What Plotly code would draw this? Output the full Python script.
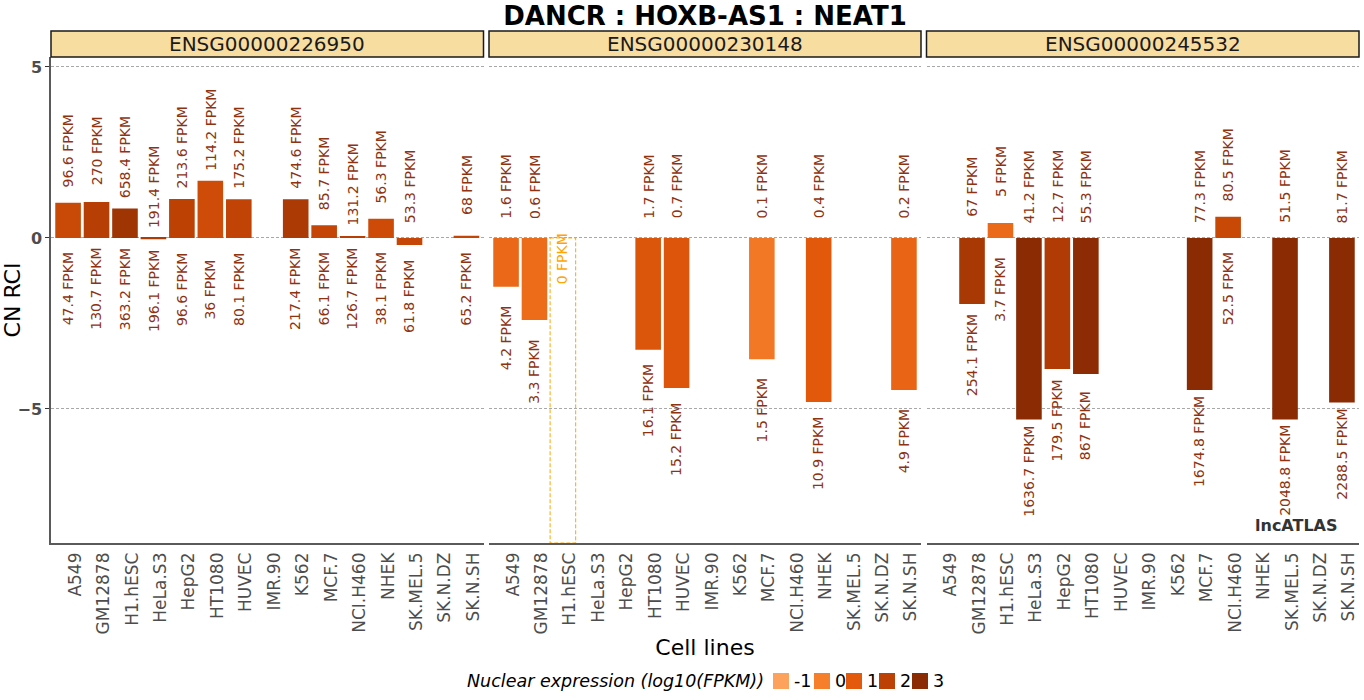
import math
import plotly.graph_objects as go

# ---------------- data ----------------
title_text = "DANCR : HOXB-AS1 : NEAT1"
gene_ids = ["ENSG00000226950", "ENSG00000230148", "ENSG00000245532"]
cell_lines = ["A549", "GM12878", "H1.hESC", "HeLa.S3", "HepG2", "HT1080", "HUVEC",
              "IMR.90", "K562", "MCF.7", "NCI.H460", "NHEK", "SK.MEL.5", "SK.N.DZ", "SK.N.SH"]

# CN RCI per cell line (None = no data)
rci_1 = [1.03, 1.05, 0.86, -0.04, 1.14, 1.67, 1.13, None, 1.13, 0.37, 0.05, 0.56, -0.21, None, 0.06]
rci_2 = [-1.43, -2.40, None, None, None, -3.27, -4.39, None, None, -3.55, None, -4.80, None, None, -4.45]
rci_3 = [None, -1.93, 0.44, -5.31, -3.83, -3.98, None, None, None, -4.45, 0.62, None, -5.31, None, -4.81]

# cytoplasmic FPKM (upper labels)
cyt_1 = [96.6, 270, 658.4, 191.4, 213.6, 114.2, 175.2, None, 474.6, 85.7, 131.2, 56.3, 53.3, None, 68]
cyt_2 = [1.6, 0.6, 0, None, None, 1.7, 0.7, None, None, 0.1, None, 0.4, None, None, 0.2]
cyt_3 = [None, 67, 5, 41.2, 12.7, 55.3, None, None, None, 77.3, 80.5, None, 51.5, None, 81.7]

# nuclear FPKM (lower labels, bar colour)
nuc_1 = [47.4, 130.7, 363.2, 196.1, 96.6, 36, 80.1, None, 217.4, 66.1, 126.7, 38.1, 61.8, None, 65.2]
nuc_2 = [4.2, 3.3, None, None, None, 16.1, 15.2, None, None, 1.5, None, 10.9, None, None, 4.9]
nuc_3 = [None, 254.1, 3.7, 1636.7, 179.5, 867, None, None, None, 1674.8, 52.5, None, 2048.8, None, 2288.5]

legend_ticks = [-1, 0, 1, 2, 3]
legend_colors = ["#FDA25C", "#F57F2A", "#E35A0C", "#BD4104", "#8A2B04"]

# ---------------- layout constants ----------------
W, H = 1364, 700
L, R, T, B = 51, 5, 57, 157
PW, PH = W - L - R, H - T - B
FONT = "DejaVu Sans"
LABEL_COLOR = "#8E3312"
NA_COLOR = "#FFA500"
Y_RANGE = [-8.92, 5.29]
X_RANGE = [-0.6, 14.6]
LABEL_OFFSET = 1.5
NA_LABEL_OFFSET = 0.6


def px(x):
    return (x - L) / PW


def py(y):
    return (H - B - y) / PH


domains = [[0, px(483.5)], [px(489), px(921)], [px(926.5), 1]]
colorscale = [[(t - legend_ticks[0]) / (legend_ticks[-1] - legend_ticks[0]), c]
              for t, c in zip(legend_ticks, legend_colors)]

panels = [(rci_1, cyt_1, nuc_1), (rci_2, cyt_2, nuc_2), (rci_3, cyt_3, nuc_3)]

fig = go.Figure()
annotations = []
shapes = []


def fmt(v):
    return f"{v:g} FPKM"


for p, (rci, cyt, nuc) in enumerate(panels):
    sfx = "" if p == 0 else str(p + 1)
    xa, ya = "x" + sfx, "y" + sfx
    log_nuc = [math.log10(v) if (v is not None and v > 0) else math.nan for v in nuc]
    fig.add_trace(go.Bar(
        x=cell_lines, y=rci, width=0.9,
        marker=dict(color=log_nuc, colorscale=colorscale,
                    cmin=legend_ticks[0], cmax=legend_ticks[-1], line=dict(width=0)),
        xaxis=xa, yaxis=ya, showlegend=False,
        hovertemplate="%{x}: %{y}<extra></extra>",
    ))
    for i, name in enumerate(cell_lines):
        if rci[i] is not None:
            annotations.append(dict(
                x=name, y=max(rci[i], 0) + LABEL_OFFSET, xref=xa, yref=ya,
                text=fmt(cyt[i]), textangle=-90, showarrow=False,
                xanchor="center", yanchor="middle",
                font=dict(family=FONT, size=14, color=LABEL_COLOR)))
            annotations.append(dict(
                x=name, y=min(rci[i], 0) - LABEL_OFFSET, xref=xa, yref=ya,
                text=fmt(nuc[i]), textangle=-90, showarrow=False,
                xanchor="center", yanchor="middle",
                font=dict(family=FONT, size=14, color=LABEL_COLOR)))
        elif cyt[i] is not None:
            # undefined RCI (zero FPKM): dashed outline down to the panel bottom
            shapes.append(dict(
                type="rect", xref=xa, yref=ya, x0=name, x1=name,
                x0shift=-0.45, x1shift=0.45, y0=0, y1=Y_RANGE[0],
                line=dict(color=NA_COLOR, width=1, dash="4px,2px"),
                fillcolor="rgba(0,0,0,0)", layer="above"))
            annotations.append(dict(
                x=name, y=0 - NA_LABEL_OFFSET, xref=xa, yref=ya,
                text=fmt(cyt[i]), textangle=-90, showarrow=False,
                xanchor="center", yanchor="middle",
                font=dict(family=FONT, size=14, color=NA_COLOR)))

    # facet strip
    d0, d1 = domains[p]
    shapes.append(dict(type="rect", xref="paper", yref="paper",
                       x0=d0, x1=d1, y0=py(57), y1=py(31),
                       fillcolor="#F8DDA1", line=dict(color="#1A1A1A", width=1.5)))
    annotations.append(dict(x=(d0 + d1) / 2, y=py(44), xref="paper", yref="paper",
                            text=gene_ids[p], showarrow=False,
                            xanchor="center", yanchor="middle",
                            font=dict(family=FONT, size=20, color="#1A1A1A")))

# axes
layout_axes = {}
for p in range(3):
    sfx = "" if p == 0 else str(p + 1)
    layout_axes["xaxis" + sfx] = dict(
        domain=domains[p], anchor="y" + sfx, type="category",
        categoryorder="array", categoryarray=cell_lines, range=X_RANGE,
        tickangle=-90, ticks="", ticklabelshift=7, ticklabelstandoff=1,
        tickfont=dict(family=FONT, size=17, color="#4D4D4D"),
        showgrid=False, zeroline=False,
        showline=True, linecolor="#5A5A5A", linewidth=1.5)
    layout_axes["yaxis" + sfx] = dict(
        domain=[0, 1], anchor="x" + sfx, range=Y_RANGE,
        tickvals=[-5, 0, 5], showgrid=True, gridcolor="#A8A8A8", griddash="3px,2px",
        gridwidth=1, zeroline=False,
        showticklabels=(p == 0), showline=(p == 0), linecolor="#5A5A5A", linewidth=1.5,
        ticks="outside" if p == 0 else "", ticklen=4, tickcolor="#333333",
        tickfont=dict(family=FONT, size=16, color="#4D4D4D", weight="bold"))
    if p > 0:
        layout_axes["yaxis" + sfx]["matches"] = "y"

layout_axes["yaxis"]["title"] = dict(text="CN RCI", standoff=4,
                                     font=dict(family=FONT, size=22, color="#000000"))
layout_axes["xaxis2"]["title"] = dict(text="Cell lines", standoff=6,
                                      font=dict(family=FONT, size=22, color="#000000"))

# lncATLAS mark
annotations.append(dict(x=px(1340), y=py(525), xref="paper", yref="paper",
                        text="<b>lncATLAS</b>", showarrow=False,
                        xanchor="right", yanchor="middle",
                        font=dict(family=FONT, size=16, color="#333333")))

# colour legend (discrete keys of the continuous scale)
annotations.append(dict(x=px(766), y=py(681), xref="paper", yref="paper",
                        text="Nuclear expression (log10(FPKM))", showarrow=False,
                        xanchor="right", yanchor="middle",
                        font=dict(family=FONT, size=17.5, color="#000000", style="italic")))
key_lefts = [773, 814, 846, 879, 912]
for left, tick, col in zip(key_lefts, legend_ticks, legend_colors):
    shapes.append(dict(type="rect", xref="paper", yref="paper",
                       x0=px(left), x1=px(left + 16), y0=py(689), y1=py(673),
                       fillcolor=col, line=dict(width=0)))
    annotations.append(dict(x=px(left + 19), y=py(681), xref="paper", yref="paper",
                            text=str(tick), showarrow=False,
                            xanchor="left", yanchor="middle",
                            font=dict(family=FONT, size=17.5, color="#000000")))

fig.update_layout(
    width=W, height=H,
    margin=dict(l=L, r=R, t=T, b=B, autoexpand=False),
    paper_bgcolor="white", plot_bgcolor="white",
    title=dict(text="<b>" + title_text + "</b>", x=0.5, xref="paper", xanchor="center",
               y=1 - 16 / H, yref="container", yanchor="middle",
               font=dict(family=FONT, size=26, color="#000000")),
    bargap=0.1, showlegend=False,
    annotations=annotations, shapes=shapes,
    **layout_axes,
)

fig.write_html("out.html", config={"displayModeBar": False},
               post_script="document.body.style.margin='0';document.body.style.padding='0';")
